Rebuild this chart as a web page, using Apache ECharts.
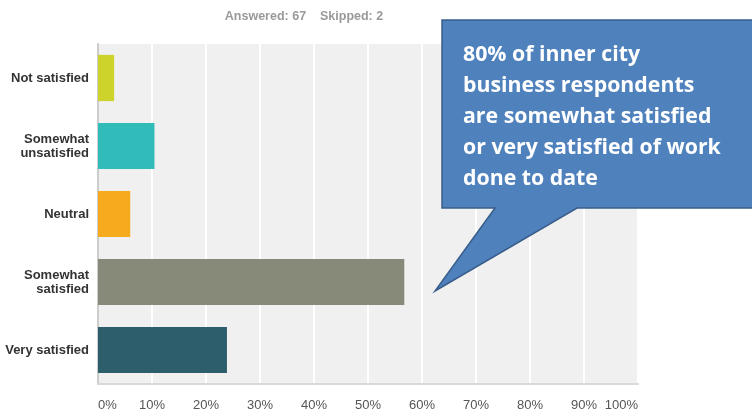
<!DOCTYPE html>
<html><head><meta charset="utf-8">
<script src="https://cdn.jsdelivr.net/npm/echarts@6/dist/echarts.min.js"></script>
<style>html,body{margin:0;padding:0;background:#fff}#c{width:752px;height:412px}</style>
</head><body><div id="c"></div>
<script>
const categories = ['Not satisfied', 'Somewhat\nunsatisfied', 'Neutral', 'Somewhat\nsatisfied', 'Very satisfied'];
const values = [2.99, 10.45, 5.97, 56.72, 23.88];
const barColors = ['#cdd32a', '#31bcb9', '#f5ab1d', '#878a79', '#2d5e6b'];
const tickValues = [0, 10, 20, 30, 40, 50, 60, 70, 80, 90, 100];
const titleText = 'Answered: 67    Skipped: 2';
const calloutLines = ['80% of inner city', 'business respondents', 'are somewhat satisfied', 'or very satisfied of work', 'done to date'];

const chart = echarts.init(document.getElementById('c'), null, {renderer: 'canvas'});
chart.setOption({
  animation: false,
  backgroundColor: '#fff',
  title: {
    text: titleText, left: 299, top: 5, textAlign: 'center',
    textStyle: {fontFamily: 'Liberation Sans, Arial', fontSize: 12.5, fontWeight: 'bold', color: '#9a9a9a'}
  },
  grid: {left: 98, right: 114, top: 44, bottom: 28, show: true, backgroundColor: '#f0f0f0', borderWidth: 0},
  xAxis: {
    type: 'value', min: tickValues[0], max: tickValues[tickValues.length - 1], interval: 10,
    axisLine: {show: true, lineStyle: {color: '#d9d9d9', width: 2}},
    axisTick: {show: false},
    splitLine: {show: true, lineStyle: {color: '#ffffff', width: 2}},
    axisLabel: {
      formatter: v => v + '%', margin: 15, alignMinLabel: 'left', alignMaxLabel: 'right',
      fontFamily: 'Liberation Sans, Arial', fontSize: 13, color: '#555'
    }
  },
  yAxis: {
    type: 'category', data: categories, inverse: true,
    axisLine: {show: true, lineStyle: {color: '#cccccc', width: 2}},
    axisTick: {show: false},
    axisLabel: {
      margin: 9, fontFamily: 'Liberation Sans, Arial', fontSize: 13, fontWeight: 'bold', color: '#333', lineHeight: 14, align: 'right'
    }
  },
  series: [{
    type: 'bar', barCategoryGap: '32%',
    data: values.map((v, i) => ({value: v, itemStyle: {color: barColors[i]}}))
  }],
  graphic: [
    {
      type: 'polygon', z: 100,
      shape: {points: [[442, 20], [756, 20], [756, 208], [577, 208], [435, 291], [495, 208], [442, 208]]},
      style: {fill: '#4f81bd', stroke: '#385d8a', lineWidth: 1.5}
    },
    {
      type: 'text', z: 101, left: 463, top: 39,
      style: {
        text: calloutLines.join('\n'), fill: '#ffffff',
        font: 'bold 21.3px "Open Sans", Lato, sans-serif', lineHeight: 31
      }
    }
  ]
});
</script></body></html>
